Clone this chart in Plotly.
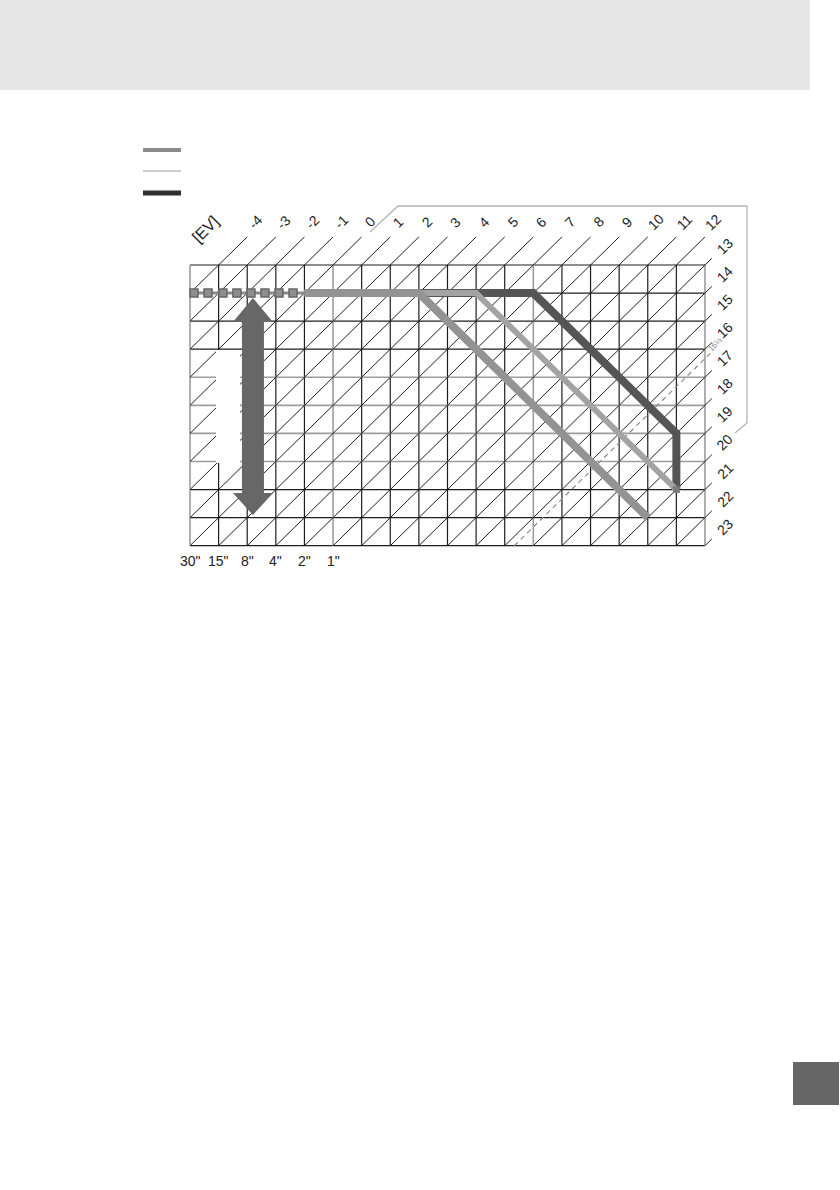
import plotly.graph_objects as go

# --- data -------------------------------------------------------------
shutter_speeds = ['30"', '15"', '8"', '4"', '2"', '1"', '1/2', '1/4', '1/8', '1/15',
                  '1/30', '1/60', '1/125', '1/250', '1/500', '1/1000', '1/2000',
                  '1/4000', '1/8000']
shutter_ticks = ['30"', '15"', '8"', '4"', '2"', '1"']
apertures = [1.0, 1.4, 2, 2.8, 4, 5.6, 8, 11, 16, 22, 32]
ev_top = list(range(-4, 13))
ev_right = list(range(13, 24))
gray_cols = ['30"', '1"', '1/125', '1/8000']
gray_rows = [4, 5.6, 8, 11]

# program lines (shutter index, aperture index)
dotted_x = [0.14, 0.63, 1.15, 1.64, 2.13, 2.62, 3.11, 3.60]
dotted_y = [1, 1, 1, 1, 1, 1, 1, 1]
light_x = [4, 8, 16]
light_y = [1, 1, 9]
mid_x = [4, 10, 17]
mid_y = [1, 1, 8]
dark_x = [4, 12, 17, 17]
dark_y = [1, 1, 6, 8]
dash_ev = 16 + 1 / 3

# --- geometry helpers ---------------------------------------------------
W, H = 840, 1190
X0, Y0, CW, CH = 190, 265, 28.61, 28.07
NX = len(shutter_speeds) - 1
NY = len(apertures) - 1


def dx(p):
    return (p - X0) / CW


def dy(p):
    return (p - Y0) / CH


BLACK = '#1e1e1e'
GRAY = '#9c9c9c'
traces = []


def segs(pairs, color, width, dash=None):
    xs, ys = [], []
    for (x1, y1), (x2, y2) in pairs:
        xs += [x1, x2, None]
        ys += [y1, y2, None]
    traces.append(go.Scatter(x=xs, y=ys, mode='lines', hoverinfo='skip',
                             line=dict(color=color, width=width, dash=dash)))


# vertical / horizontal grid
vb, vg, hb, hg = [], [], [], []
for i, s in enumerate(shutter_speeds):
    (vg if s in gray_cols else vb).append(((i, 0), (i, NY)))
for j, a in enumerate(apertures):
    (hg if a in gray_rows else hb).append(((0, j), (NX, j)))
segs(vb, BLACK, 1.2)
segs(hb, BLACK, 1.2)
segs(vg, GRAY, 1.6)
segs(hg, GRAY, 1.6)

# EV diagonals
diag = []
for ev in [ev_top[0] - 1] + ev_top + ev_right:
    c = ev + 5
    if c <= 0:
        continue
    xa = max(0, c - NY)
    xb = min(NX, c)
    diag.append(((xa, c - xa), (xb, c - xb)))
    if c <= NX - 1:
        diag.append(((c, 0), (c + 1, -1)))
    else:
        diag.append(((NX, c - NX), (NX + 0.24, c - NX - 0.24)))
segs(diag, BLACK, 1)

# dashed EV line
c = dash_ev + 5
segs([((c - NY, NY), (NX + 0.3, c - NX - 0.3))], '#8c8c8c', 1.2, dash='5px,4px')

# white notch (label box removed)
nx0, nx1, ny0, ny1 = dx(216), dx(240), dy(350), dy(463)
traces.append(go.Scatter(x=[nx0, nx1, nx1, nx0, nx0], y=[ny0, ny0, ny1, ny1, ny0],
                         mode='lines', fill='toself', fillcolor='white',
                         line=dict(width=0, color='white'), hoverinfo='skip'))

# double arrow
ax, at, ab = 2.2, dy(298), dy(515)
hb_t, hb_b = dy(322), dy(493)
hw, sw = 20 / CW, 11 / CW
arr_x = [ax, ax + hw, ax + sw, ax + sw, ax + hw, ax, ax - hw, ax - sw, ax - sw, ax - hw, ax]
arr_y = [at, hb_t, hb_t, hb_b, hb_b, ab, hb_b, hb_b, hb_t, hb_t, at]
traces.append(go.Scatter(x=arr_x, y=arr_y, mode='lines', fill='toself',
                         fillcolor='#676767', line=dict(width=0, color='#676767'),
                         hoverinfo='skip'))

# frame outline
fr_x = [dx(370), dx(398), dx(747), dx(747), dx(735)]
fr_y = [dy(232), dy(206), dy(206), dy(423), dy(433)]
traces.append(go.Scatter(x=fr_x, y=fr_y, mode='lines', hoverinfo='skip',
                         line=dict(color='#b4b4b4', width=1.3)))

# program lines
traces.append(go.Scatter(x=dark_x, y=dark_y, mode='lines', hoverinfo='skip',
                         line=dict(color='#555555', width=8)))
traces.append(go.Scatter(x=mid_x, y=mid_y, mode='lines', hoverinfo='skip',
                         line=dict(color='#a3a3a3', width=6)))
traces.append(go.Scatter(x=light_x, y=light_y, mode='lines', hoverinfo='skip',
                         line=dict(color='#939393', width=8)))
traces.append(go.Scatter(x=[dark_x[-1]], y=[dark_y[-1]], mode='markers', hoverinfo='skip',
                         marker=dict(symbol='square', size=7, color='#7a7a7a')))
traces.append(go.Scatter(x=dotted_x + [light_x[0]], y=dotted_y + [light_y[0]],
                         mode='lines', hoverinfo='skip',
                         line=dict(color='#8a8a8a', width=3)))
traces.append(go.Scatter(x=dotted_x, y=dotted_y, mode='markers', hoverinfo='skip',
                         marker=dict(symbol='square', size=8, color='#8e8e8e',
                                     line=dict(color='#666666', width=1.5))))

fig = go.Figure(data=traces)

# --- text -------------------------------------------------------------
FONT = 'Liberation Sans, Arial, sans-serif'
ann = []
for ev in ev_top:
    c = ev + 5
    ann.append(dict(x=c + 1 + 8 / CW, y=-1 - 15 / CH, text=str(ev), textangle=-45))
for ev in ev_right:
    c = ev + 5
    ann.append(dict(x=NX + 20 / CW, y=c - NX - 19 / CH, text=str(ev), textangle=-45))
ann.append(dict(x=dx(205), y=dy(229), text='[EV]', textangle=-45,
                font=dict(size=16, color='#222', family=FONT)))
for i, t in enumerate(shutter_ticks):
    ann.append(dict(x=i, y=dy(561), text=t, textangle=0))
ann.append(dict(x=dx(715), y=dy(344), text='16⅓', textangle=-45,
                font=dict(size=8, color='#8a8a8a', family=FONT)))
for a in ann:
    a.setdefault('font', dict(size=14, color='#222', family=FONT))
    a.update(showarrow=False, xref='x', yref='y', xanchor='center', yanchor='middle')

# --- decoration shapes ------------------------------------------------
shapes = [
    dict(type='rect', xref='paper', yref='paper', x0=0, x1=810 / W, y0=1 - 90 / H, y1=1,
         fillcolor='#e6e6e6', line=dict(width=0), layer='below'),
    dict(type='rect', xref='paper', yref='paper', x0=793 / W, x1=839 / W,
         y0=1 - 1105 / H, y1=1 - 1062 / H, fillcolor='#666666', line=dict(width=0),
         layer='below'),
]
# legend swatches (labels not shown)
for yp, col, w in [(150, '#8a8a8a', 4), (171, '#9a9a9a', 1), (193, '#2e2e2e', 5)]:
    shapes.append(dict(type='line', xref='x', yref='y', x0=dx(143), x1=dx(181),
                       y0=dy(yp), y1=dy(yp), line=dict(color=col, width=w)))

fig.update_layout(
    width=W, height=H, autosize=False,
    margin=dict(l=0, r=0, t=0, b=0, pad=0),
    paper_bgcolor='white', plot_bgcolor='white',
    showlegend=False,
    annotations=ann, shapes=shapes,
    xaxis=dict(range=[dx(0), dx(W)], visible=False, fixedrange=True),
    yaxis=dict(range=[dy(H), dy(0)], visible=False, fixedrange=True),
)
fig.write_html("out.html", config={'displayModeBar': False, 'staticPlot': True},
               post_script="document.body.style.margin='0px';document.body.style.overflow='hidden';")
